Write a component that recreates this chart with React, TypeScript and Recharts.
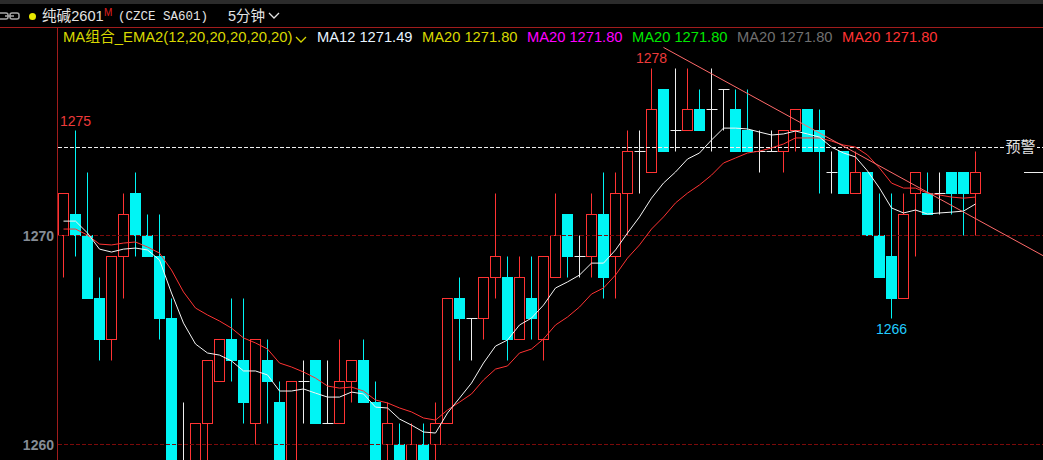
import * as React from "react"
import { ComposedChart, Bar, Line, XAxis, YAxis, ReferenceLine, ReferenceDot } from "recharts"

// 5 minute candles
const opens = [1270,1271,1270,1267,1265,1269,1272,1270,1269,1266,1258,1258,1261,1263,1265,1264,1261,1264,1262,1258,1263,1264,1261,1261,1263,1264,1262,1260,1260,1258,1260,1260,1261,1267,1266,1266,1268,1268,1265,1267,1265,1268,1271,1269,1269,1271,1269,1272,1274,1273,1277,1275,1275,1276,1276,1277,1276,1275,1274,1274,1274,1275,1276,1275,1273,1274,1272,1273,1270,1269,1267,1272,1272,1272,1273,1273,1272]
const closes = [1272,1270,1267,1265,1269,1271,1270,1269,1266,1258,1258,1261,1264,1265,1264,1262,1265,1263,1258,1263,1263,1261,1261,1263,1264,1262,1258,1261,1258,1260,1258,1261,1267,1266,1266,1268,1269,1265,1268,1266,1269,1270,1269,1269,1271,1268,1272,1274,1274,1276,1274,1275,1276,1275,1276,1277,1274,1274,1274,1274,1275,1276,1274,1274,1273,1272,1273,1270,1268,1267,1271,1273,1271,1272,1272,1272,1273]
const highs = [1272,1275,1273,1268,1269,1272,1273,1271,1271,1267,1262,1261,1264,1265,1267,1267,1265,1265,1263,1263,1264,1264,1264,1265,1264,1265,1263,1262,1261,1261,1261,1262,1267,1268,1266,1268,1272,1269,1269,1269,1269,1272,1271,1270,1272,1273,1273,1275,1275,1278,1277,1278,1278,1277,1278,1277,1277,1277,1275,1275,1275,1276,1276,1276,1274,1274,1274,1273,1272,1272,1272,1273,1273,1273,1273,1273,1274]
const lows = [1268,1269,1267,1264,1264,1267,1269,1269,1265,1258,1257,1257,1258,1263,1263,1261,1260,1261,1258,1258,1261,1261,1261,1261,1262,1262,1258,1258,1258,1258,1258,1258,1261,1264,1264,1265,1267,1264,1265,1265,1264,1268,1268,1268,1268,1267,1267,1270,1272,1273,1274,1274,1275,1275,1274,1275,1274,1274,1273,1274,1273,1274,1274,1272,1272,1272,1272,1270,1268,1266,1267,1269,1271,1271,1271,1270,1270]
const ma12 = [1270.69,1270.69,1270.12,1269.35,1269.21,1269.35,1269.40,1269.31,1268.83,1267.25,1265.81,1264.81,1264.38,1264.28,1264.00,1263.52,1263.52,1263.33,1262.56,1262.56,1262.66,1262.46,1262.27,1262.27,1262.51,1262.42,1261.79,1261.75,1261.22,1260.93,1260.60,1260.55,1261.51,1262.22,1262.94,1263.90,1264.71,1265.00,1265.72,1266.05,1266.67,1267.49,1267.78,1268.11,1268.68,1268.68,1269.31,1270.12,1270.89,1271.79,1272.51,1273.04,1273.66,1273.95,1274.57,1275.14,1275.14,1275.10,1274.95,1274.81,1274.86,1275.00,1274.86,1274.71,1274.23,1273.95,1273.76,1273.09,1272.27,1271.32,1271.08,1271.22,1271.03,1271.08,1271.12,1271.17,1271.51]
const ma20 = [1270.31,1270.31,1270.02,1269.59,1269.55,1269.64,1269.69,1269.45,1269.16,1268.35,1267.30,1266.53,1266.20,1265.91,1265.57,1265.10,1264.86,1264.57,1263.90,1263.71,1263.47,1263.18,1262.80,1262.70,1262.75,1262.56,1262.13,1261.99,1261.75,1261.56,1261.27,1261.17,1261.65,1262.03,1262.42,1263.09,1263.61,1263.76,1264.38,1264.57,1265.05,1265.72,1266.10,1266.58,1267.20,1267.49,1268.11,1268.92,1269.55,1270.31,1270.89,1271.56,1272.03,1272.42,1272.89,1273.47,1273.71,1273.95,1274.04,1274.19,1274.38,1274.67,1274.67,1274.67,1274.52,1274.33,1274.23,1273.85,1273.23,1272.51,1272.27,1272.27,1272.03,1271.94,1271.84,1271.79,1271.84]

const yTicks = [1260, 1270]
const alertPrice = 1274.21
const lastPrice = 1273
const trendIdx = [50, 82]
const trendPrices = [1279, 1268.92]
const slotCount = 83

const legendItems = [
  { text: "MA12 1271.49", color: "#e8f4ff", left: 317 },
  { text: "MA20 1271.80", color: "#d8d800", left: 422 },
  { text: "MA20 1271.80", color: "#ff00ff", left: 527 },
  { text: "MA20 1271.80", color: "#00e800", left: 632 },
  { text: "MA20 1271.80", color: "#707070", left: 737 },
  { text: "MA20 1271.80", color: "#ff3333", left: 842 },
]

const RED = "#ff3333"
const CYAN = "#00f5f5"
const WHITE = "#eeeeee"

const rows = Array.from({ length: slotCount }, (_, i) => ({
  idx: i,
  open: opens[i],
  close: closes[i],
  range: i < opens.length ? [lows[i], highs[i]] : null,
  ma12: i < ma12.length ? ma12[i] : null,
  ma20: i < ma20.length ? ma20[i] : null,
  trend: trendIdx.includes(i) ? trendPrices[trendIdx.indexOf(i)] : null,
}))

// candle drawn inside the bar box recharts gives for [low, high]
function Candle(props: any) {
  const { x, y, width, height, payload } = props
  if (!payload || !payload.range) return null
  const [low, high] = payload.range
  const toY = (p: number) => Math.floor(y + ((high - p) / (high - low)) * height - 0.2) + 0.5
  const cx = x + width / 2
  const top = toY(Math.max(payload.open, payload.close))
  const bottom = toY(Math.min(payload.open, payload.close))
  const hi = toY(high)
  const lo = toY(low)

  if (payload.open === payload.close) {
    return (
      <g stroke={WHITE} strokeWidth={1}>
        <line x1={cx} x2={cx} y1={hi} y2={lo} />
        <line x1={cx - 5} x2={cx + 6} y1={top} y2={top} />
      </g>
    )
  }
  const up = payload.close > payload.open
  const color = up ? RED : CYAN
  return (
    <g>
      <line x1={cx} x2={cx} y1={hi} y2={top} stroke={color} />
      <line x1={cx} x2={cx} y1={bottom} y2={lo} stroke={color} />
      {up ? (
        <rect x={cx - 5} y={top} width={10} height={bottom - top} fill="#000" stroke={RED} strokeWidth={1} />
      ) : (
        <rect x={cx - 5.5} y={top - 0.5} width={11} height={bottom - top + 1} fill={CYAN} />
      )}
    </g>
  )
}

const sans = "'Liberation Sans', Arial, 'Noto Sans CJK SC', sans-serif"

function PriceTick({ y, payload }: any) {
  return (
    <text x={54} y={y + 5} textAnchor="end" fill="#858c96" fontSize={14} fontWeight={700} fontFamily={sans}>
      {payload.value}
    </text>
  )
}

function Chevron({ left, top, color }: { left: number; top: number; color: string }) {
  return (
    <svg style={{ position: "absolute", left, top }} width={12} height={8}>
      <polyline points="1,1 6,6 11,1" fill="none" stroke={color} strokeWidth={1.3} />
    </svg>
  )
}

function Text({ left, top, color, size, font, children }: any) {
  return (
    <div style={{ position: "absolute", left, top, color, fontSize: size, fontFamily: font || sans, lineHeight: "18px", whiteSpace: "pre" }}>
      {children}
    </div>
  )
}

export default function App() {
  return (
    <div style={{ position: "absolute", left: 0, top: 0, width: 1043, height: 460, overflow: "hidden", background: "#000" }}>
      <ComposedChart
        width={1054}
        height={460}
        data={rows}
        margin={{ top: 28, right: 0.5, bottom: 0, left: 0 }}
        barCategoryGap={0}
        style={{ position: "absolute", left: 0, top: 0 }}
      >
        <XAxis dataKey="idx" hide padding={{ left: 0, right: 0 }} />
        <YAxis
          width={57.5}
          domain={[1259.26, 1279.93]}
          allowDataOverflow
          ticks={yTicks}
          interval={0}
          axisLine={{ stroke: "#a01c1c" }}
          tickLine={false}
          tick={<PriceTick />}
        />
        {yTicks.map((t) => (
          <ReferenceLine key={t} y={t} stroke="#7c0a0a" strokeDasharray="4 2" shapeRendering="crispEdges" />
        ))}
        <ReferenceLine y={alertPrice} stroke="#f0f0f0" strokeDasharray="4 2" shapeRendering="crispEdges" />
        <ReferenceLine segment={[{ x: 80, y: lastPrice }, { x: 82, y: lastPrice }]} stroke={WHITE} shapeRendering="crispEdges" />
        <Bar dataKey="range" shape={<Candle />} isAnimationActive={false} />
        <Line dataKey="ma20" stroke={RED} strokeWidth={1} dot={false} isAnimationActive={false} />
        <Line dataKey="ma12" stroke="#f4f4f4" strokeWidth={1} dot={false} isAnimationActive={false} />
        <Line dataKey="trend" stroke="#ff6a6a" strokeWidth={1} dot={false} connectNulls isAnimationActive={false} />
        <ReferenceDot x={1} y={1275} r={0} stroke="none" label={{ value: "1275", position: "top", fill: "#ee3a3a", fontSize: 14, fontFamily: sans }} />
        <ReferenceDot x={49} y={1278} r={0} stroke="none" label={{ value: "1278", position: "top", fill: "#ee3a3a", fontSize: 14, fontFamily: sans }} />
        <ReferenceDot x={69} y={1266} r={0} stroke="none" label={{ value: "1266", position: "bottom", fill: "#22ccff", fontSize: 14, fontFamily: sans }} />
      </ComposedChart>

      {/* header */}
      <div style={{ position: "absolute", left: 0, top: 0, width: 1043, height: 4, background: "#2b2b2b" }} />
      <div style={{ position: "absolute", left: 0, top: 27, width: 1043, height: 1, background: "#a01c1c" }} />
      <svg style={{ position: "absolute", left: 0, top: 12 }} width={22} height={9}>
        <rect x={-4} y={1} width={12} height={6} rx={2} fill="none" stroke="#a8a8a8" strokeWidth={1.5} />
        <rect x={10} y={1} width={9} height={6} rx={2} fill="none" stroke="#a8a8a8" strokeWidth={1.5} />
        <line x1={5} x2={14} y1={4} y2={4} stroke="#a8a8a8" strokeWidth={1.5} />
      </svg>
      <div style={{ position: "absolute", left: 29, top: 13, width: 7, height: 7, borderRadius: 4, background: "#e8e800" }} />
      <Text left={42} top={7} color="#e4e4e4" size={14.6}>纯碱2601</Text>
      <Text left={104} top={4} color="#e02020" size={10}>M</Text>
      <Text left={118} top={8} color="#e4e4e4" size={12.5} font="'Liberation Mono', monospace">(CZCE SA601)</Text>
      <Text left={228} top={7} color="#e4e4e4" size={14.5}>5分钟</Text>
      <Chevron left={268} top={12} color="#e4e4e4" />
      <Text left={63} top={28} color="#d8d800" size={14.8}>MA组合_EMA2(12,20,20,20,20,20)</Text>
      <Chevron left={295} top={36} color="#d8d800" />
      {legendItems.map((item) => (
        <Text key={item.left} left={item.left} top={28} color={item.color} size={14.7}>{item.text}</Text>
      ))}
      <div style={{ position: "absolute", left: 1004, top: 138, width: 33, height: 18, background: "#000", color: "#e4e4e4", fontSize: 15, fontFamily: sans, lineHeight: "18px", textAlign: "center" }}>预警</div>
    </div>
  )
}
